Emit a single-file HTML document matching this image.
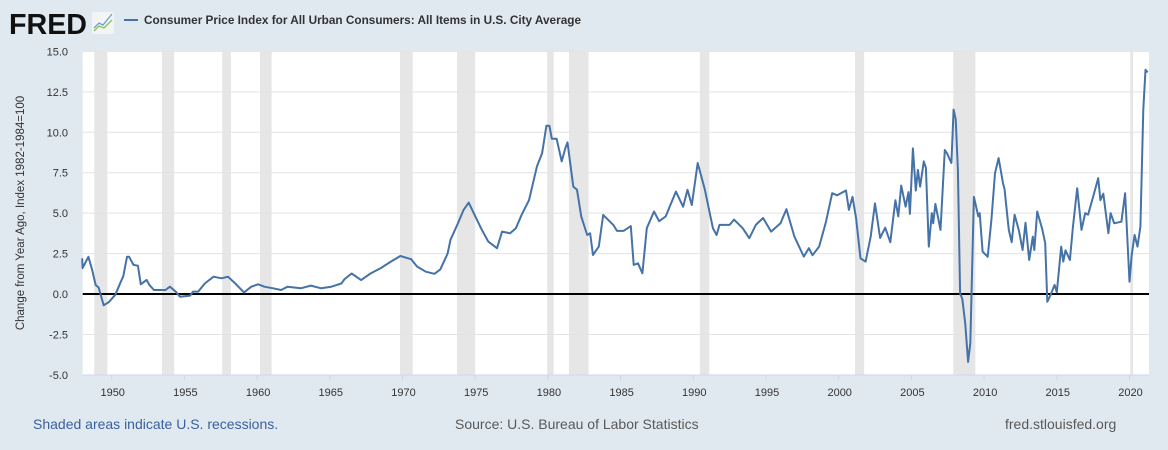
<!DOCTYPE html>
<html><head><meta charset="utf-8">
<style>
body{margin:0;width:1168px;height:450px;background:#e1e9f0;font-family:"Liberation Sans",sans-serif;overflow:hidden}
svg{display:block}
</style></head>
<body>
<svg id="chart" width="1168" height="450">
  <rect x="0" y="0" width="1168" height="450" fill="#e1e9f0"/>
  <text x="9" y="34" font-size="29" font-weight="bold" fill="#111" textLength="78" lengthAdjust="spacingAndGlyphs">FRED</text>
  <g>
    <rect x="92" y="12" width="22" height="22" rx="2" fill="#f2f4f6"/>
    <polyline points="94,28 99,23 103,25 112,14" fill="none" stroke="#6fa0c9" stroke-width="1.3"/>
    <polyline points="94,31 99,26 104,28 112,20" fill="none" stroke="#8bbf5a" stroke-width="1.3"/>
  </g>
  <line x1="124" y1="20" x2="138" y2="20" stroke="#4572a7" stroke-width="2"/>
  <text x="144" y="24" font-size="12" font-weight="bold" fill="#333" textLength="437" lengthAdjust="spacingAndGlyphs">Consumer Price Index for All Urban Consumers: All Items in U.S. City Average</text>
  <rect x="82.7" y="51.5" width="1066.3" height="323.5" fill="#fff"/>
  <g id="rec"></g>
  <g id="grid"></g>
  <g id="yticks"></g>
  <g id="xticks"></g>
  <line id="zero" stroke="#000" stroke-width="2"/>
  <path id="series" fill="none" stroke="#4572a7" stroke-width="2" stroke-linejoin="round"/>
  <text transform="translate(24,213) rotate(-90)" text-anchor="middle" font-size="11.5" fill="#333">Change from Year Ago, Index 1982-1984=100</text>
  <text x="33" y="429" font-size="14" fill="#3a5f9e">Shaded areas indicate U.S. recessions.</text>
  <text x="455" y="429" font-size="14" fill="#595959">Source: U.S. Bureau of Labor Statistics</text>
  <text x="1005" y="429" font-size="14" fill="#595959">fred.stlouisfed.org</text>
</svg>
<script>
const years = [1947.97,1948.0,1948.4,1948.65,1948.9,1949.1,1949.45,1949.8,1950.25,1950.6,1950.8,1951.05,1951.2,1951.5,1951.8,1952.0,1952.4,1952.6,1952.9,1953.7,1954.0,1954.4,1954.7,1955.4,1955.6,1955.95,1956.4,1957.0,1957.55,1958.0,1958.5,1959.1,1959.6,1960.07,1960.5,1961.1,1961.65,1962.1,1963.0,1963.7,1964.4,1965.1,1965.8,1966.0,1966.5,1967.15,1967.8,1968.5,1969.2,1969.85,1970.6,1971.0,1971.6,1972.2,1972.6,1973.1,1973.3,1973.8,1974.2,1974.55,1974.9,1975.4,1975.9,1976.5,1976.85,1977.4,1977.8,1978.2,1978.7,1979.25,1979.6,1979.9,1980.1,1980.27,1980.6,1980.95,1981.2,1981.35,1981.75,1982.0,1982.3,1982.7,1982.9,1983.1,1983.5,1983.8,1984.5,1984.75,1985.2,1985.7,1985.9,1986.2,1986.5,1986.8,1987.3,1987.65,1988.1,1988.8,1989.3,1989.6,1989.9,1990.3,1990.8,1991.35,1991.6,1991.8,1992.5,1992.8,1993.4,1993.85,1994.3,1994.8,1995.35,1996.0,1996.4,1996.95,1997.6,1997.95,1998.2,1998.65,1999.1,1999.55,1999.9,2000.5,2000.7,2000.95,2001.2,2001.5,2001.85,2002.2,2002.5,2002.85,2003.2,2003.55,2003.9,2004.1,2004.3,2004.6,2004.8,2004.9,2005.1,2005.3,2005.45,2005.6,2005.85,2006.0,2006.2,2006.4,2006.5,2006.65,2007.0,2007.3,2007.45,2007.75,2007.9,2008.05,2008.2,2008.35,2008.5,2008.7,2008.9,2009.05,2009.3,2009.6,2009.7,2009.9,2010.25,2010.5,2010.75,2011.0,2011.3,2011.4,2011.7,2011.9,2012.1,2012.4,2012.65,2012.85,2013.1,2013.35,2013.45,2013.65,2014.0,2014.2,2014.35,2014.55,2014.85,2015.0,2015.3,2015.45,2015.6,2015.9,2016.1,2016.4,2016.7,2016.95,2017.15,2017.5,2017.85,2018.0,2018.2,2018.55,2018.7,2018.95,2019.44,2019.7,2020.0,2020.15,2020.35,2020.55,2020.75,2020.95,2021.1,2021.25];
const values = [2.21,1.6,2.3,1.5,0.55,0.4,-0.7,-0.5,-0.05,0.7,1.1,2.3,2.3,1.8,1.75,0.6,0.87,0.55,0.25,0.25,0.45,0.15,-0.17,-0.1,0.15,0.15,0.65,1.07,0.97,1.07,0.65,0.1,0.45,0.6,0.45,0.35,0.25,0.45,0.35,0.52,0.35,0.45,0.65,0.9,1.27,0.86,1.27,1.6,2.0,2.35,2.15,1.7,1.38,1.25,1.52,2.5,3.35,4.35,5.2,5.65,5.0,4.07,3.24,2.83,3.86,3.75,4.07,4.9,5.8,7.9,8.7,10.4,10.4,9.6,9.6,8.2,9.0,9.37,6.64,6.44,4.78,3.65,3.75,2.41,2.93,4.89,4.27,3.9,3.9,4.2,1.8,1.9,1.28,4.07,5.1,4.5,4.8,6.33,5.4,6.44,5.5,8.1,6.44,4.07,3.65,4.27,4.27,4.6,4.07,3.45,4.27,4.7,3.86,4.37,5.24,3.55,2.31,2.83,2.4,2.93,4.37,6.23,6.1,6.4,5.2,6.0,4.68,2.2,2.0,3.55,5.6,3.47,4.1,3.2,5.8,4.8,6.7,5.4,6.3,4.95,9.0,6.4,7.67,6.64,8.2,7.8,2.93,5.0,4.37,5.57,3.96,8.9,8.7,8.1,11.4,10.8,7.67,0.04,-0.3,-1.8,-4.2,-3.05,6.0,4.8,5.0,2.62,2.3,4.58,7.47,8.4,6.85,6.5,3.96,3.2,4.9,3.9,2.72,4.4,2.1,3.55,2.72,5.1,4.0,3.14,-0.48,-0.1,0.56,0.1,2.93,2.0,2.7,2.1,4.07,6.54,3.96,5.0,4.9,6.0,7.16,5.8,6.2,3.76,5.0,4.37,4.47,6.23,0.76,2.41,3.65,2.93,4.17,11.4,13.86,13.7];
const yTicks = [15.0,12.5,10.0,7.5,5.0,2.5,0.0,-2.5,-5.0];
const xTicks = [1950,1955,1960,1965,1970,1975,1980,1985,1990,1995,2000,2005,2010,2015,2020];
const recStart = [1948.8,1953.45,1957.6,1960.2,1969.83,1973.75,1979.95,1981.45,1990.45,2001.12,2007.88,2020.05];
const recEnd = [1949.7,1954.3,1958.2,1961.0,1970.7,1975.0,1980.4,1982.8,1991.1,2001.75,2009.4,2020.25];

const L=82.7, R=1149, T=51.5, B=375;
const xs = y => 111.7 + (y-1950)*14.54;
const ys = v => 294 - v*16.175;
const NS='http://www.w3.org/2000/svg';
function mk(tag, attrs, parent){const e=document.createElementNS(NS,tag);for(const k in attrs)e.setAttribute(k,attrs[k]);document.getElementById(parent).appendChild(e);return e;}

recStart.forEach((s,i)=>{
  const x1=Math.max(L,xs(s)), x2=Math.min(R,xs(recEnd[i]));
  const r=mk('rect',{x:x1,y:T,width:x2-x1,height:B-T,fill:'#e6e6e6'},'rec');
  
  
});
yTicks.forEach(v=>{
  if(v!==0 && v!==-5){
    const g=mk('line',{x1:L,x2:R,y1:ys(v),y2:ys(v),stroke:'#e3e3e3','stroke-width':1},'grid');
    
    
  }
  const t=mk('text',{x:68,y:ys(v)+4,'text-anchor':'end','font-size':11,fill:'#333'},'yticks');
  t.textContent=v.toFixed(1);
  
  
});
const ax=mk('line',{x1:L,x2:R,y1:B,y2:B,stroke:'#ccd6eb','stroke-width':1},'xticks');


xTicks.forEach(y=>{
  const tk=mk('line',{x1:xs(y),x2:xs(y),y1:B,y2:B+5,stroke:'#ccd6eb','stroke-width':1},'xticks');
  
  
  const t=mk('text',{x:xs(y)+1,y:B+21,'text-anchor':'middle','font-size':11,fill:'#333'},'xticks');
  t.textContent=y;
  
  
});
const z=document.getElementById('zero');
z.setAttribute('x1',L);z.setAttribute('x2',R);z.setAttribute('y1',ys(0));z.setAttribute('y2',ys(0));
document.getElementById('series').setAttribute('d', years.map((y,i)=>(i?'L':'M')+xs(y).toFixed(1)+','+ys(values[i]).toFixed(1)).join(''));
</script>
</body></html>
